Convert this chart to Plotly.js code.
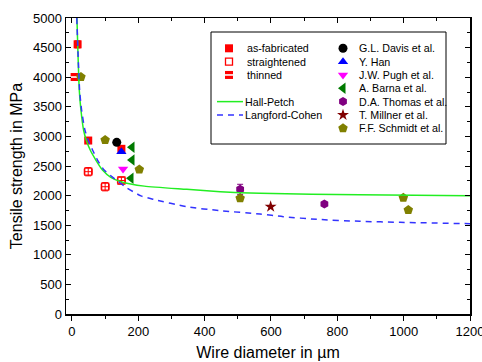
<!DOCTYPE html>
<html><head><meta charset="utf-8">
<script src="https://cdn.plot.ly/plotly-3.0.1.min.js"></script>
<style>html,body{margin:0;padding:0;background:#fff}#chart{width:482px;height:362px}</style>
</head><body><div id="chart"></div>
<script>
// ---- data ----
const asFabD = [17, 49, 149];
const asFabS = [4555, 2930, 2790];
const asFabErr = [60, 40, 50];
const straightD = [49, 100, 149];
const straightS = [2404, 2150, 2255];
const straightErrY = [70, 70, 60];
const straightErrX = [12, 12, 12];
const thinD = [8];
const thinS = [4003];
const davisD = [135];
const davisS = [2900];
const hanD = [149];
const hanS = [2742];
const pughD = [154];
const pughS = [2450];
const barnaD = [181, 181, 178];
const barnaS = [2815, 2601, 2292];
const thomasD = [507, 761];
const thomasS = [2106, 1858];
const thomasErr = [85, 30];
const millnerD = [599];
const millnerS = [1813];
const schmidtD = [27, 100, 203, 507, 999, 1014];
const schmidtS = [4003, 2939, 2440, 1954, 1965, 1757];
const hallD = [15, 22, 27, 35, 43, 55, 72, 92, 117, 148, 218, 346, 447, 567, 868, 1200];
const hallS = [5000, 3783, 3446, 3108, 2939, 2770, 2601, 2432, 2309, 2235, 2160, 2106, 2066, 2038, 2015, 1998];
const lcD = [14.5, 23, 29, 39, 49, 62, 77, 97, 127, 163, 208, 246, 346, 447, 567, 637, 738, 868, 989, 1200];
const lcS = [5000, 3783, 3446, 3108, 2939, 2770, 2601, 2432, 2292, 2140, 1995, 1937, 1812, 1745, 1689, 1644, 1599, 1566, 1549, 1525];
const xTickStep = 200;
const yTickStep = 500;

const FONT = 'Arial, "Liberation Sans", sans-serif';

function err(arr, color) {
  return {type: 'data', array: arr, visible: true, color: color, thickness: 1, width: 3};
}

const series = [
  {name: 'as-fabricated', x: asFabD, y: asFabS, marker: {symbol: 'square', size: 8, color: '#ff0000'}, ey: asFabErr, col: 'L'},
  {name: 'straightened', x: straightD, y: straightS, marker: {symbol: 'square-open', size: 7, color: '#ff0000', line: {width: 1.3, color: '#ff0000'}}, ey: straightErrY, ex: straightErrX, col: 'L'},
  {name: 'thinned', x: thinD, y: thinS, marker: {symbol: 'square', size: 8, color: '#ff0000'}, overlay: true, col: 'L'},
  {name: 'G.L. Davis et al.', x: davisD, y: davisS, marker: {symbol: 'circle', size: 9, color: '#000000'}, col: 'R'},
  {name: 'Y. Han', x: hanD, y: hanS, marker: {symbol: 'triangle-up', size: 9, color: '#0000ff'}, col: 'R'},
  {name: 'J.W. Pugh et al.', x: pughD, y: pughS, marker: {symbol: 'triangle-down', size: 9, color: '#ff00ff'}, col: 'R'},
  {name: 'A. Barna et al.', x: barnaD, y: barnaS, marker: {symbol: 'triangle-left', size: 10, color: '#007a00'}, col: 'R'},
  {name: 'D.A. Thomas et al.', x: thomasD, y: thomasS, marker: {symbol: 'hexagon', size: 9, color: '#800080'}, ey: thomasErr, col: 'R'},
  {name: 'T. Millner et al.', x: millnerD, y: millnerS, marker: {symbol: 'star', size: 9, color: '#800000'}, col: 'R'},
  {name: 'F.F. Schmidt et al.', x: schmidtD, y: schmidtS, marker: {symbol: 'pentagon', size: 10, color: '#808000'}, col: 'R'}
];
const lines = [
  {name: 'Hall-Petch', x: hallD, y: hallS, line: {color: '#22ee22', width: 1.5, shape: 'spline', smoothing: 0.6}},
  {name: 'Langford-Cohen', x: lcD, y: lcS, line: {color: '#3333ff', width: 1.5, dash: '6px,5px', shape: 'spline', smoothing: 0.6}}
];

const traces = [];
lines.forEach(l => traces.push({type: 'scatter', mode: 'lines', x: l.x, y: l.y, line: l.line, xaxis: 'x2', yaxis: 'y', showlegend: false, hoverinfo: 'skip'}));
series.forEach(s => {
  const t = {type: 'scatter', mode: 'markers', name: s.name, x: s.x, y: s.y, marker: s.marker, showlegend: false, cliponaxis: true};
  if (s.ey) t.error_y = err(s.ey, s.marker.color);
  if (s.ex) t.error_x = err(s.ex, s.marker.color);
  traces.push(t);
  if (s.overlay) traces.push({type: 'scatter', mode: 'markers', x: s.x, y: s.y, showlegend: false, hoverinfo: 'skip',
    marker: {symbol: 'line-ew', size: 6, line: {color: '#ffffff', width: 1.6}}});
});

// ---- custom legend (plot-area fractions) ----
const L = 66, T = 18, W = 404, H = 296;
const fx = px => (px - L) / W;
const fy = py => (T + H - py) / H;
const rowH = 13.33, row0 = 48.3;
const annotations = [];
const lsym = {type: 'scatter', mode: 'markers', xaxis: 'x3', yaxis: 'y3', showlegend: false, hoverinfo: 'skip'};
let li = 0, ri = 0;
series.forEach(s => {
  let sx, tx, py;
  if (s.col === 'L') { sx = 229; tx = 245; py = row0 + rowH * li; li++; }
  else { sx = 343; tx = 357; py = row0 + rowH * ri; ri++; }
  const m = Object.assign({}, s.marker);
  traces.push(Object.assign({}, lsym, {x: [fx(sx)], y: [fy(py)], marker: m}));
  if (s.overlay) traces.push(Object.assign({}, lsym, {x: [fx(sx)], y: [fy(py)], marker: {symbol: 'line-ew', size: 6, line: {color: '#ffffff', width: 1.6}}}));
  annotations.push({xref: 'paper', yref: 'paper', x: fx(tx), y: fy(py), xanchor: 'left', yanchor: 'middle', text: s.name, showarrow: false, font: {family: FONT, size: 10.7, color: '#000'}});
});
lines.forEach((l, i) => {
  const py = row0 + rowH * (4 + i);
  traces.push(Object.assign({}, lsym, {mode: 'lines', x: [fx(217), fx(243)], y: [fy(py), fy(py)], line: {color: l.line.color, width: l.line.width, dash: l.line.dash}}));
  annotations.push({xref: 'paper', yref: 'paper', x: fx(243), y: fy(py), xanchor: 'left', yanchor: 'middle', text: l.name, showarrow: false, font: {family: FONT, size: 10.7, color: '#000'}});
});

const layout = {
  width: 482, height: 362,
  margin: {l: 66, r: 12, t: 18, b: 48, pad: 0},
  paper_bgcolor: '#fff', plot_bgcolor: '#fff',
  font: {family: FONT, size: 13, color: '#000'},
  showlegend: false,
  xaxis: {range: [-18, 1200], tick0: 0, dtick: xTickStep, ticks: 'outside', ticklen: 5, tickwidth: 1, tickcolor: '#000',
    minor: {dtick: xTickStep / 2, tick0: 0, ticks: 'outside', ticklen: 3, tickwidth: 1, tickcolor: '#000'},
    showline: true, linecolor: '#000', linewidth: 1.5, mirror: true, showgrid: false, zeroline: false,
    tickfont: {family: FONT, size: 13}, automargin: false, ticklabeloverflow: 'allow',
    title: {text: 'Wire diameter in µm', font: {family: FONT, size: 16}, standoff: 8}},
  xaxis2: {overlaying: 'x', side: 'top', range: [-18, 1200], tick0: 0, dtick: xTickStep, ticks: 'inside', ticklen: 5, tickwidth: 1, tickcolor: '#000',
    minor: {dtick: xTickStep / 2, tick0: 0, ticks: 'inside', ticklen: 3, tickwidth: 1, tickcolor: '#000'},
    showticklabels: false, showline: false, showgrid: false, zeroline: false, fixedrange: true},
  yaxis: {range: [0, 5000], tick0: 0, dtick: yTickStep, ticks: 'inside', ticklen: 5, tickwidth: 1, tickcolor: '#000',
    minor: {dtick: yTickStep / 2, tick0: 0, ticks: 'inside', ticklen: 3, tickwidth: 1, tickcolor: '#000'},
    showline: true, linecolor: '#000', linewidth: 1.5, mirror: 'ticks', showgrid: false, zeroline: false,
    tickfont: {family: FONT, size: 13}, automargin: false,
    title: {text: 'Tensile strength in MPa', font: {family: FONT, size: 16}, standoff: 6}},
  xaxis3: {overlaying: 'x', range: [0, 1], visible: false, fixedrange: true},
  yaxis3: {overlaying: 'y', range: [0, 1], visible: false, fixedrange: true},
  shapes: [{type: 'rect', xref: 'paper', yref: 'paper', x0: fx(211), x1: fx(446), y0: fy(144), y1: fy(32), line: {color: '#000', width: 1}, fillcolor: 'rgba(0,0,0,0)'}],
  annotations: annotations
};

Plotly.newPlot('chart', traces, layout, {staticPlot: true, displayModeBar: false});
</script>
</body></html>
